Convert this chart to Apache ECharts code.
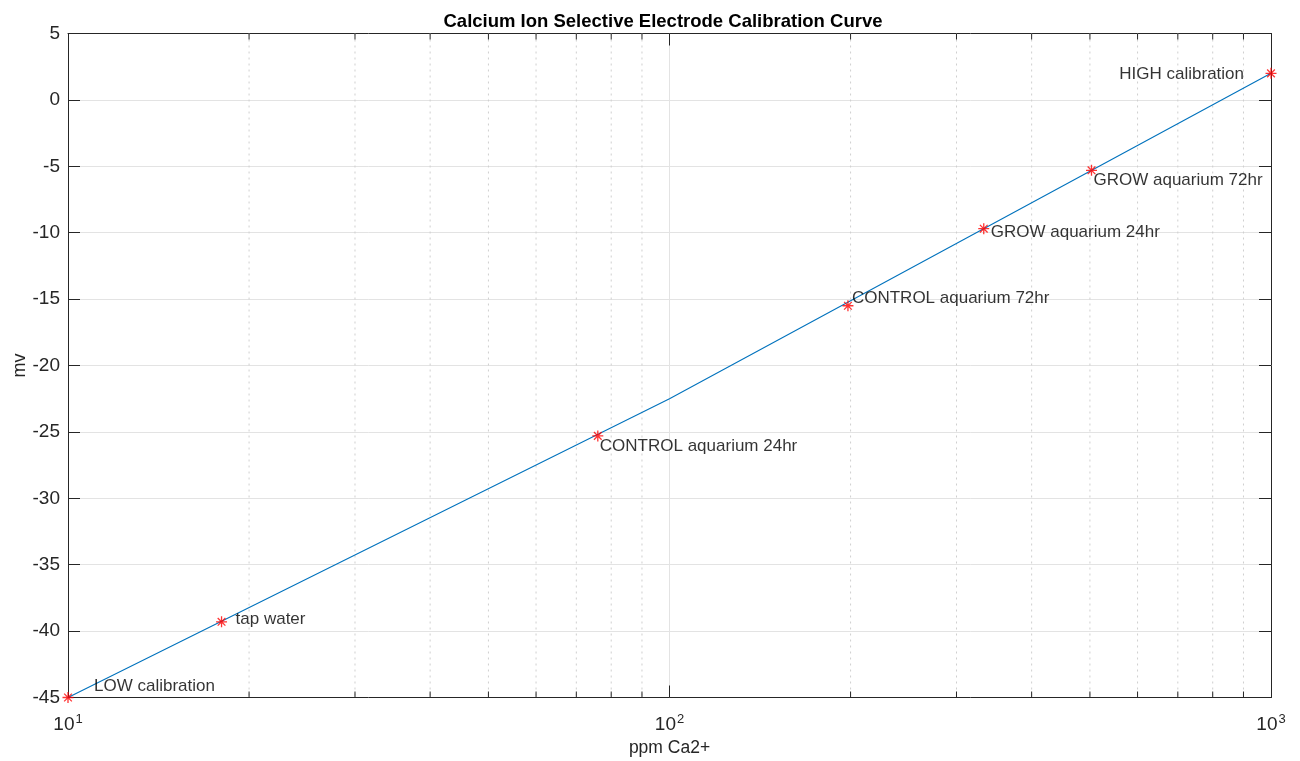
<!DOCTYPE html>
<html>
<head>
<meta charset="utf-8">
<script src="https://cdn.jsdelivr.net/npm/echarts@6/dist/echarts.min.js"></script>
<style>
  html, body { margin: 0; padding: 0; background: #fff; }
  #chart { width: 1300px; height: 761px; }
</style>
</head>
<body>
<div id="chart"></div>
<script>
// Measured samples (ppm Ca2+ vs electrode potential in mV)
const sampleNames = ['LOW calibration', 'tap water', 'CONTROL aquarium 24hr', 'CONTROL aquarium 72hr',
                     'GROW aquarium 24hr', 'GROW aquarium 72hr', 'HIGH calibration'];
const samplePpm = [10, 18, 76, 198, 333, 503, 1000];
const sampleMv = [-45, -39.3, -25.3, -15.5, -9.7, -5.3, 2];

// Calibration curve
const curvePpm = [10, 100, 1000];
const curveMv = [-45, -22.5, 2];

// Axis ranges and ticks
const xTickExponents = [1, 2, 3];
const yMin = -45, yMax = 5, yStep = 5;
const minorTicks = [20, 30, 40, 50, 60, 70, 80, 90, 200, 300, 400, 500, 600, 700, 800, 900];

// Label placement for each sample annotation: [dx, dy, align]
const labelPlacement = [
  [26, -11, 'left'], [14, -2, 'left'], [2, 10, 'left'], [4, -7, 'left'],
  [7, 4, 'left'], [2, 10, 'left'], [-27, 1, 'right']
];

const FONT = '"Liberation Sans", Arial, Helvetica, sans-serif';
const AXIS = '#262626';
const GRID = '#e3e3e3';

const chart = echarts.init(document.getElementById('chart'), null, { renderer: 'canvas' });

const xLog = (position, show) => ({
  type: 'log', logBase: 10, min: 10, max: 1000, position: position,
  axisLine: { show: true, onZero: false, lineStyle: { color: AXIS, width: 1 } },
  axisTick: { show: true, inside: true, length: 12, lineStyle: { color: AXIS } },
  splitLine: { show: show, lineStyle: { color: GRID, width: 1 } },
  minorTick: { show: false },
  axisLabel: show ? {
    show: true, margin: 15, color: AXIS, fontFamily: FONT,
    formatter: v => {
      const e = Math.round(Math.log10(v));
      return xTickExponents.includes(e) ? '{b|10}{s|' + e + '}' : '';
    },
    rich: {
      b: { fontSize: 19, fontFamily: FONT, color: AXIS },
      s: { fontSize: 13, fontFamily: FONT, color: AXIS, padding: [0, 0, 11, 1] }
    }
  } : { show: false }
});

const yLin = (position, show) => ({
  type: 'value', min: yMin, max: yMax, interval: yStep, position: position,
  axisLine: { show: true, onZero: false, lineStyle: { color: AXIS, width: 1 } },
  axisTick: { show: true, inside: true, length: 12, lineStyle: { color: AXIS } },
  splitLine: { show: show, lineStyle: { color: GRID, width: 1 } },
  axisLabel: show ? { show: true, margin: 8, fontSize: 19, color: AXIS, fontFamily: FONT } : { show: false }
});

const option = {
  backgroundColor: '#ffffff',
  animation: false,
  title: {
    text: 'Calcium Ion Selective Electrode Calibration Curve',
    left: 658, top: 7, textAlign: 'center',
    textStyle: { fontSize: 18.5, fontWeight: 'bold', color: '#000', fontFamily: FONT }
  },
  // y-axis title, rotated, to the left of the tick labels
  graphic: [{
    type: 'text',
    x: 20, y: 365.5,
    rotation: Math.PI / 2,
    style: { text: 'mv', fontSize: 18, fill: AXIS, fontFamily: FONT, align: 'center', verticalAlign: 'middle' }
  }],
  grid: { left: 68, right: 29, top: 33.5, bottom: 63.5, containLabel: false, outerBoundsMode: 'none' },
  xAxis: [
    Object.assign(xLog('bottom', true), {
      name: 'ppm Ca2+', nameLocation: 'middle', nameGap: 41,
      nameTextStyle: { fontSize: 17.5, color: AXIS, fontFamily: FONT }
    }),
    xLog('top', false)
  ],
  yAxis: [
    yLin('left', true),
    yLin('right', false)
  ],
  series: [
    {
      // dotted minor grid on the log axis, with short inward ticks top and bottom
      type: 'custom',
      xAxisIndex: 0, yAxisIndex: 0,
      clip: false, silent: true, z: 1,
      data: minorTicks.map(v => [v]),
      renderItem: (params, api) => {
        const v = api.value(0);
        const top = api.coord([v, yMax]);
        const bot = api.coord([v, yMin]);
        return {
          type: 'group',
          children: [
            { type: 'line', shape: { x1: top[0], y1: top[1], x2: bot[0], y2: bot[1] },
              style: { stroke: '#cfcfcf', lineWidth: 1, lineDash: [2, 4] } },
            { type: 'line', shape: { x1: bot[0], y1: bot[1], x2: bot[0], y2: bot[1] - 6 },
              style: { stroke: AXIS, lineWidth: 1 } },
            { type: 'line', shape: { x1: top[0], y1: top[1], x2: top[0], y2: top[1] + 6 },
              style: { stroke: AXIS, lineWidth: 1 } }
          ]
        };
      }
    },
    {
      type: 'line',
      xAxisIndex: 0, yAxisIndex: 0,
      data: curvePpm.map((x, i) => [x, curveMv[i]]),
      showSymbol: false, symbol: 'none',
      lineStyle: { color: '#0072BD', width: 1.1 },
      z: 3
    },
    {
      type: 'scatter',
      xAxisIndex: 0, yAxisIndex: 0,
      clip: false,
      symbol: 'path://M0,5L10,5M5,0L5,10M1.5,1.5L8.5,8.5M1.5,8.5L8.5,1.5',
      symbolSize: 11,
      itemStyle: { color: '#ff0000', borderColor: '#ff0000', borderWidth: 1.3 },
      z: 4,
      data: samplePpm.map((x, i) => ({
        value: [x, sampleMv[i]],
        name: sampleNames[i],
        label: {
          show: true,
          position: 'inside',
          align: labelPlacement[i][2],
          verticalAlign: 'middle',
          offset: [labelPlacement[i][0], labelPlacement[i][1]],
          formatter: sampleNames[i],
          fontSize: 17, color: '#000', fontFamily: FONT
        }
      }))
    }
  ]
};

chart.setOption(option);
</script>
</body>
</html>
